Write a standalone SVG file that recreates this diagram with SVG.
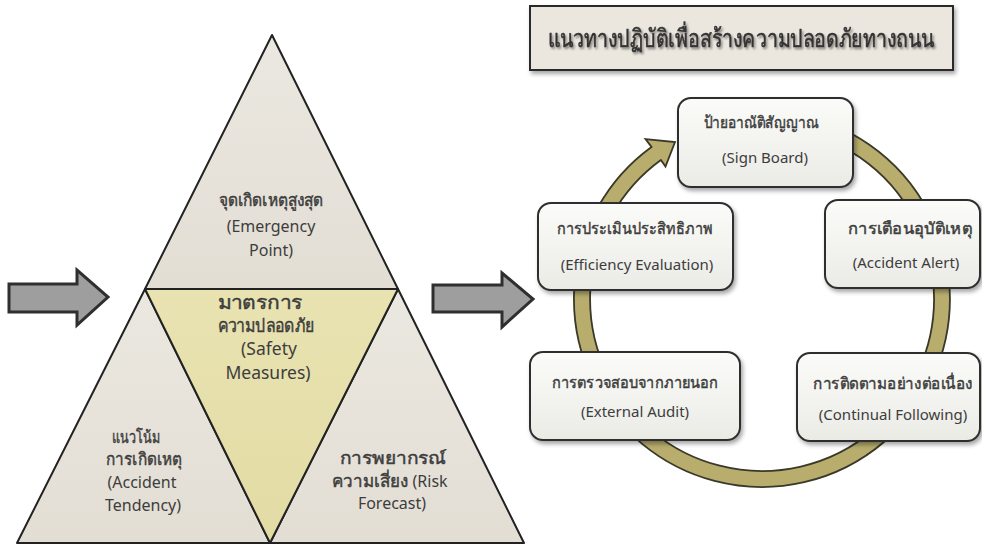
<svg xmlns="http://www.w3.org/2000/svg" width="982" height="548" viewBox="0 0 982 548">
<defs>
<style>
.t{font-family:"Noto Sans","DejaVu Sans",sans-serif;fill:#3d3d3d;text-anchor:middle}
.th{stroke:#3d3d3d;stroke-width:0.45px}
.tri{font-size:16px}
.tri.th{font-size:17px}
.mid{font-size:17.5px}
.mid.th{font-size:18.5px}
.box{font-size:15px}
.box.th{font-size:16px}
.ttl{font-size:25px;fill:#333;stroke:#333;stroke-width:0.5px}
.tr{stroke:#222;stroke-width:2;stroke-linejoin:round}
.bx{fill:url(#gBox);stroke:#2e2e2e;stroke-width:2}
.arr{fill:#9e9e9e;stroke:#2f2f2f;stroke-width:3;stroke-linejoin:miter}
</style>
<linearGradient id="gSide" x1="0" y1="0" x2="0" y2="1">
<stop offset="0" stop-color="#ebe8e1"/><stop offset="1" stop-color="#e3ded4"/>
</linearGradient>
<linearGradient id="gMid" x1="0" y1="0" x2="0" y2="1">
<stop offset="0" stop-color="#e9e3b2"/><stop offset="1" stop-color="#e2dba4"/>
</linearGradient>
<linearGradient id="gBox" x1="0" y1="0" x2="0" y2="1">
<stop offset="0" stop-color="#fbfbf9"/><stop offset="1" stop-color="#ebebe6"/>
</linearGradient>
<filter id="sh" x="-10%" y="-10%" width="130%" height="140%">
<feDropShadow dx="2" dy="3" stdDeviation="2" flood-color="#000" flood-opacity="0.35"/>
</filter>
<filter id="tsh" x="-5%" y="-20%" width="110%" height="150%">
<feDropShadow dx="1.5" dy="2" stdDeviation="1.2" flood-color="#000" flood-opacity="0.45"/>
</filter>
</defs>
<rect width="982" height="548" fill="#ffffff"/>

<g id="title">
<rect x="530" y="6" width="423" height="64" fill="#ebe7df" stroke="#2a2a2a" stroke-width="2" filter="url(#sh)"/>
<text class="t ttl" x="741" y="47" textLength="387" lengthAdjust="spacingAndGlyphs" filter="url(#tsh)">แนวทางปฏิบัติเพื่อสร้างความปลอดภัยทางถนน</text>
</g>

<g id="connectors">
<polygon class="arr" points="9,284 77,284 77,270 108,297 77,325 77,312 9,312"/>
<polygon class="arr" points="433,285 502,285 502,273 533,299 502,327 502,312 433,312"/>
<path d="M 794.6 113.9 A 188 188 0 1 1 651.5 146.9 L 645.5 139 L 675 142 L 665.5 166.5 L 660.9 159.9 A 172 172 0 1 0 791.9 129.6 Z" fill="#b8ad6d" stroke="#3a3828" stroke-width="1.8" stroke-linejoin="miter"/>
</g>

<g id="tri-top">
<polygon class="tr" points="272,35 398,289 145,289" fill="url(#gSide)"/>
<text class="t tri th" x="271" y="206" textLength="105" lengthAdjust="spacingAndGlyphs">จุดเกิดเหตุสูงสุด</text>
<text class="t tri" x="271" y="232">(Emergency</text>
<text class="t tri" x="271" y="256">Point)</text>
</g>
<g id="tri-left">
<polygon class="tr" points="145,289 270,543 17,543" fill="url(#gSide)"/>
<text class="t tri th" x="136" y="443" textLength="48" lengthAdjust="spacingAndGlyphs">แนวโน้ม</text>
<text class="t tri th" x="144" y="465" textLength="76" lengthAdjust="spacingAndGlyphs">การเกิดเหตุ</text>
<text class="t tri" x="142" y="488">(Accident</text>
<text class="t tri" x="143" y="511">Tendency)</text>
</g>
<g id="tri-right">
<polygon class="tr" points="398,289 524,543 270,543" fill="url(#gSide)"/>
<text class="t tri th" x="393" y="464" textLength="107" lengthAdjust="spacingAndGlyphs">การพยากรณ์</text>
<text class="t tri" x="390" y="487"><tspan class="th" font-size="17">ความเสี่ยง</tspan> (Risk</text>
<text class="t tri" x="392" y="509">Forecast)</text>
</g>
<g id="tri-mid">
<polygon class="tr" points="145,289 398,289 270,543" fill="url(#gMid)"/>
<text class="t mid th" x="260" y="309" textLength="85" lengthAdjust="spacingAndGlyphs">มาตรการ</text>
<text class="t mid th" x="266" y="332" textLength="97" lengthAdjust="spacingAndGlyphs">ความปลอดภัย</text>
<text class="t mid" x="269" y="355">(Safety</text>
<text class="t mid" x="268" y="379">Measures)</text>
</g>

<g id="sign-board">
<rect class="bx" x="678" y="98" width="175" height="89" rx="13" filter="url(#sh)"/>
<text class="t box th" x="761" y="128" textLength="115" lengthAdjust="spacingAndGlyphs">ป้ายอาณัติสัญญาณ</text>
<text class="t box" x="765" y="163">(Sign Board)</text>
</g>
<g id="accident-alert">
<rect class="bx" x="825" y="200" width="155" height="88" rx="13" filter="url(#sh)"/>
<text class="t box th" x="910" y="234" textLength="124" lengthAdjust="spacingAndGlyphs">การเตือนอุบัติเหตุ</text>
<text class="t box" x="906" y="268">(Accident Alert)</text>
</g>
<g id="continual-following">
<rect class="bx" x="797" y="353" width="183" height="88" rx="13" filter="url(#sh)"/>
<text class="t box th" x="893" y="389" textLength="160" lengthAdjust="spacingAndGlyphs">การติดตามอย่างต่อเนื่อง</text>
<text class="t box" x="893" y="420">(Continual Following)</text>
</g>
<g id="external-audit">
<rect class="bx" x="530" y="352" width="210" height="88" rx="13" filter="url(#sh)"/>
<text class="t box th" x="635" y="388" textLength="166" lengthAdjust="spacingAndGlyphs">การตรวจสอบจากภายนอก</text>
<text class="t box" x="635" y="417">(External Audit)</text>
</g>
<g id="efficiency-evaluation">
<rect class="bx" x="538" y="203" width="195" height="87" rx="13" filter="url(#sh)"/>
<text class="t box th" x="635" y="234" textLength="156" lengthAdjust="spacingAndGlyphs">การประเมินประสิทธิภาพ</text>
<text class="t box" x="637" y="270">(Efficiency Evaluation)</text>
</g>
</svg>
